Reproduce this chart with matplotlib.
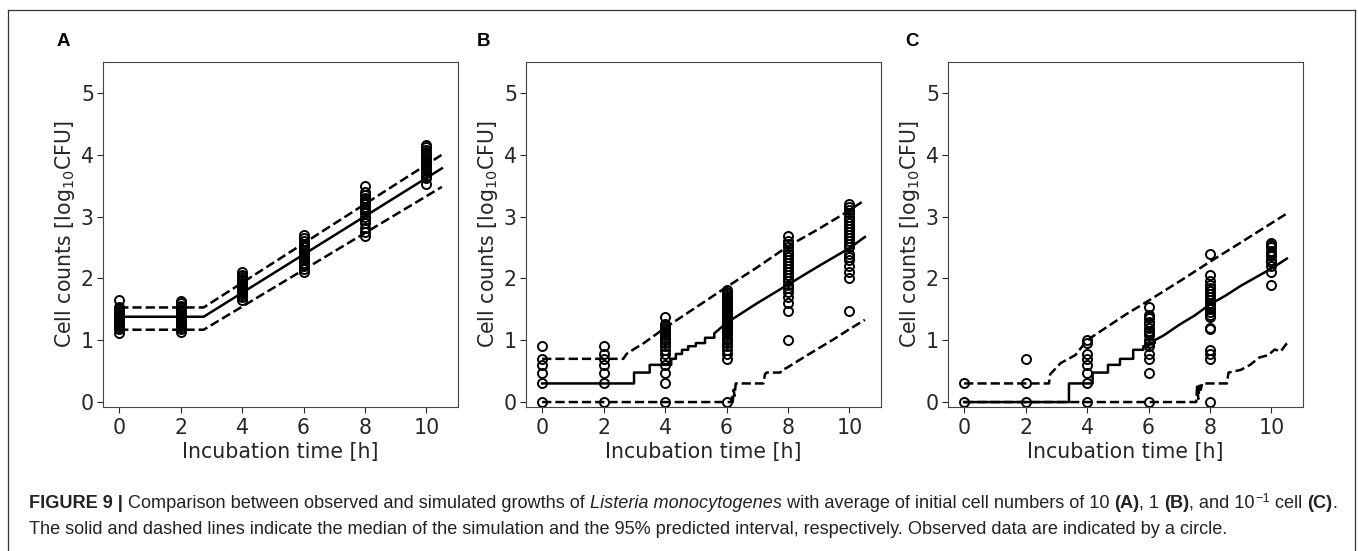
import matplotlib
matplotlib.use("Agg")
import matplotlib.pyplot as plt
from matplotlib.lines import Line2D

# observation times (h)
obs_times = [0, 2, 4, 6, 8, 10]

# observed log10 counts, one list per time point
obs_a = [
    [1.12, 1.18, 1.2, 1.23, 1.25, 1.27, 1.29, 1.3, 1.32, 1.33, 1.35, 1.36, 1.38, 1.4, 1.41, 1.43, 1.45, 1.47, 1.5, 1.53, 1.65],
    [1.14, 1.18, 1.22, 1.25, 1.28, 1.3, 1.32, 1.35, 1.37, 1.39, 1.41, 1.43, 1.45, 1.48, 1.5, 1.53, 1.56, 1.6, 1.63],
    [1.65, 1.7, 1.73, 1.76, 1.79, 1.82, 1.85, 1.87, 1.9, 1.93, 1.96, 1.99, 2.02, 2.05, 2.1],
    [2.11, 2.15, 2.2, 2.25, 2.3, 2.33, 2.36, 2.4, 2.43, 2.46, 2.5, 2.53, 2.56, 2.6, 2.65, 2.7],
    [2.68, 2.75, 2.82, 2.9, 2.95, 3.0, 3.05, 3.1, 3.13, 3.16, 3.2, 3.23, 3.27, 3.3, 3.35, 3.4, 3.5],
    [3.52, 3.62, 3.66, 3.7, 3.74, 3.77, 3.8, 3.83, 3.86, 3.89, 3.92, 3.95, 3.98, 4.01, 4.04, 4.08, 4.12, 4.15],
]
obs_b = [
    [0, 0.301, 0.477, 0.602, 0.699, 0.903],
    [0, 0.301, 0.477, 0.602, 0.699, 0.778, 0.903],
    [0, 0.301, 0.477, 0.602, 0.699, 0.778, 0.845, 0.903, 0.954, 1.0, 1.04, 1.08, 1.11, 1.146, 1.176, 1.2, 1.23, 1.255, 1.38],
    [0, 0.699, 0.778, 0.845, 0.903, 0.954, 1.0, 1.04, 1.08, 1.11, 1.146, 1.18, 1.2, 1.23, 1.26, 1.28, 1.3, 1.32, 1.34,
     1.36, 1.38, 1.4, 1.43, 1.45, 1.48, 1.5, 1.52, 1.54, 1.57, 1.6, 1.62, 1.65, 1.68, 1.7, 1.72, 1.75, 1.78, 1.81],
    [1.0, 1.48, 1.6, 1.7, 1.78, 1.85, 1.9, 1.95, 2.0, 2.05, 2.1, 2.15, 2.2, 2.25, 2.3, 2.35, 2.4, 2.45, 2.5, 2.55, 2.6, 2.68],
    [1.48, 2.0, 2.1, 2.2, 2.3, 2.35, 2.4, 2.5, 2.55, 2.6, 2.65, 2.7, 2.75, 2.8, 2.85, 2.9, 2.95, 3.0, 3.05, 3.1, 3.15, 3.2],
]
obs_c = [
    [0, 0.301],
    [0, 0.301, 0.699],
    [0, 0.301, 0.477, 0.602, 0.699, 0.778, 0.954, 1.0],
    [0, 0.477, 0.699, 0.778, 0.903, 0.954, 1.0, 1.08, 1.11, 1.146, 1.2, 1.255, 1.3, 1.36, 1.38, 1.415, 1.54],
    [0, 0.699, 0.778, 0.845, 1.176, 1.204, 1.38, 1.415, 1.46, 1.505, 1.54, 1.57, 1.6, 1.65, 1.7, 1.75, 1.8, 1.85,
     1.9, 1.95, 2.06, 2.39],
    [1.89, 2.11, 2.2, 2.26, 2.3, 2.36, 2.4, 2.45, 2.5, 2.54, 2.57],
]

# simulated median and 95% interval (time, log10 count)
med_a_t = [0, 2.75, 10.5]
med_a_y = [1.38, 1.38, 3.78]
up_a_t = [0, 2.75, 10.5]
up_a_y = [1.53, 1.53, 4.0]
lo_a_t = [0, 2.75, 10.5]
lo_a_y = [1.17, 1.17, 3.48]

med_b_t = [0, 2.99, 2.99, 3.5, 3.5, 4.2, 4.2, 4.35, 4.35, 4.55, 4.55, 4.75, 4.75, 5.0, 5.0, 5.3, 5.3, 5.6, 5.6,
           6.0, 7.0, 8.0, 9.0, 10.0, 10.5]
med_b_y = [0.301, 0.301, 0.477, 0.477, 0.602, 0.602, 0.699, 0.699, 0.778, 0.778, 0.845, 0.845, 0.903, 0.903,
           0.954, 0.954, 1.04, 1.04, 1.11, 1.28, 1.6, 1.9, 2.2, 2.49, 2.67]
up_b_t = [0, 2.64, 2.75, 3.0, 3.3, 4.0, 5.0, 6.0, 7.0, 8.0, 9.0, 10.0, 10.5]
up_b_y = [0.699, 0.699, 0.78, 0.86, 0.95, 1.2, 1.53, 1.86, 2.18, 2.52, 2.8, 3.1, 3.27]
lo_b_t = [0, 6.15, 6.18, 6.2, 6.23, 6.26, 6.3, 7.2, 7.25, 7.3, 7.75, 7.8, 7.95, 8.5, 9.0, 9.5, 10.0, 10.5]
lo_b_y = [0, 0, 0.1, 0.0, 0.2, 0.1, 0.301, 0.301, 0.45, 0.477, 0.477, 0.52, 0.55, 0.72, 0.87, 1.02, 1.18, 1.33]

med_c_t = [0, 3.41, 3.41, 4.18, 4.18, 4.68, 4.68, 5.07, 5.07, 5.5, 5.5, 5.83, 5.83, 6.0, 6.0, 6.2, 6.2,
           6.5, 7.0, 7.5, 8.0, 8.5, 9.0, 9.5, 10.0, 10.5]
med_c_y = [0, 0, 0.301, 0.301, 0.477, 0.477, 0.602, 0.602, 0.699, 0.699, 0.845, 0.845, 0.903, 0.903, 0.954,
           0.954, 1.0, 1.08, 1.25, 1.4, 1.58, 1.72, 1.88, 2.02, 2.16, 2.32]
up_c_t = [0, 2.76, 2.8, 3.14, 3.62, 4.0, 5.24, 6.0, 7.0, 8.0, 9.0, 10.5]
up_c_y = [0.301, 0.301, 0.45, 0.63, 0.76, 1.0, 1.41, 1.64, 1.95, 2.27, 2.58, 3.05]
lo_c_t = [0, 7.55, 7.58, 7.62, 7.66, 7.7, 7.74, 8.55, 8.6, 9.0, 9.3, 9.6, 9.9, 10.1, 10.3, 10.5]
lo_c_y = [0, 0, 0.25, 0.05, 0.3, 0.2, 0.301, 0.301, 0.477, 0.52, 0.6, 0.72, 0.76, 0.85, 0.82, 0.95]

panels = [
    ("A", obs_a, (med_a_t, med_a_y), (up_a_t, up_a_y), (lo_a_t, lo_a_y)),
    ("B", obs_b, (med_b_t, med_b_y), (up_b_t, up_b_y), (lo_b_t, lo_b_y)),
    ("C", obs_c, (med_c_t, med_c_y), (up_c_t, up_c_y), (lo_c_t, lo_c_y)),
]

W, H = 1358, 551
fig = plt.figure(figsize=(W / 100, H / 100), dpi=100)

ax_left = [103, 526, 948]
letter_x = [57, 477, 905]
tick_col = "#262626"
fs = 14.8

for i, (letter, obs, med, up, lo) in enumerate(panels):
    ax = fig.add_axes([ax_left[i] / W, 1 - 407 / H, 355 / W, 345 / H])
    ax.plot(med[0], med[1], color="black", lw=1.8)
    ax.plot(up[0], up[1], color="black", lw=1.8, ls="--")
    ax.plot(lo[0], lo[1], color="black", lw=1.8, ls="--")
    for t, vals in zip(obs_times, obs):
        ax.plot([t] * len(vals), vals, ls="none", marker="o", ms=6.5,
                mfc="none", mec="black", mew=1.4)
    ax.set_xlim(-0.525, 11.025)
    ax.set_ylim(-0.08, 5.5)
    ax.set_xticks([0, 2, 4, 6, 8, 10])
    ax.set_yticks([0, 1, 2, 3, 4, 5])
    ax.tick_params(labelsize=fs, colors=tick_col, length=4, pad=2.5)
    ax.tick_params(axis="x", pad=4)
    for s in ax.spines.values():
        s.set_color("#444444")
    ax.set_xlabel("Incubation time [h]", fontsize=fs, color=tick_col, labelpad=3)
    ax.set_ylabel(r"Cell counts [log$_{10}$CFU]", fontsize=fs, color=tick_col, labelpad=3)
    fig.text(letter_x[i] / W, 1 - 42 / H, letter, fontsize=13.5, fontweight="bold",
             family="Liberation Sans", va="center", ha="left")

# frame around the figure
frame_col = "#333333"
fig.add_artist(Line2D([8 / W, 8 / W], [0, 1 - 10 / H], color=frame_col, lw=0.9))
fig.add_artist(Line2D([8 / W, 1355 / W], [1 - 10 / H, 1 - 10 / H], color=frame_col, lw=0.9))
fig.add_artist(Line2D([1355 / W, 1355 / W], [0, 1 - 10 / H], color=frame_col, lw=0.9))

# caption, written as consecutive runs of text
cap_font = "Liberation Sans"
cap_col = "#222222"
renderer = fig.canvas.get_renderer()


def put_runs(x, y, runs, size, draw=True):
    x0 = x
    for s, kw in runs:
        opts = dict(fontsize=size, family=cap_font, color=cap_col, va="baseline")
        opts.update(kw)
        if "rel" in opts:
            opts["fontsize"] = size * opts.pop("rel")
        dy = opts.pop("dy", 0)
        t = fig.text(x, y + dy, s, **opts)
        x += t.get_window_extent(renderer).width / W
        if not draw:
            t.remove()
    return (x - x0) * W


line1 = [
    ("FIGURE 9 |", {"fontweight": "bold"}),
    (" Comparison between observed and simulated growths of ", {}),
    ("Listeria monocytogenes", {"style": "italic"}),
    (" with average of initial cell numbers of 10 ", {}),
    ("(A)", {"fontweight": "bold"}),
    (", 1 ", {}),
    ("(B)", {"fontweight": "bold"}),
    (", and 10", {}),
    ("\u22121", {"rel": 0.7, "dy": 6 / H}),
    (" cell ", {}),
    ("(C)", {"fontweight": "bold"}),
    (".", {}),
]
line2 = [
    ("The solid and dashed lines indicate the median of the simulation and the 95% predicted interval, "
     "respectively. Observed data are indicated by a circle.", {}),
]
# scale the caption so the first line spans the same width as in the figure
probe = put_runs(0, 0, line1, 12, draw=False)
cap_size = 12 * 1313 / probe
put_runs(29 / W, 1 - 508 / H, line1, cap_size)
put_runs(29 / W, 1 - 534 / H, line2, cap_size)

fig.savefig("out.png", dpi=100)
